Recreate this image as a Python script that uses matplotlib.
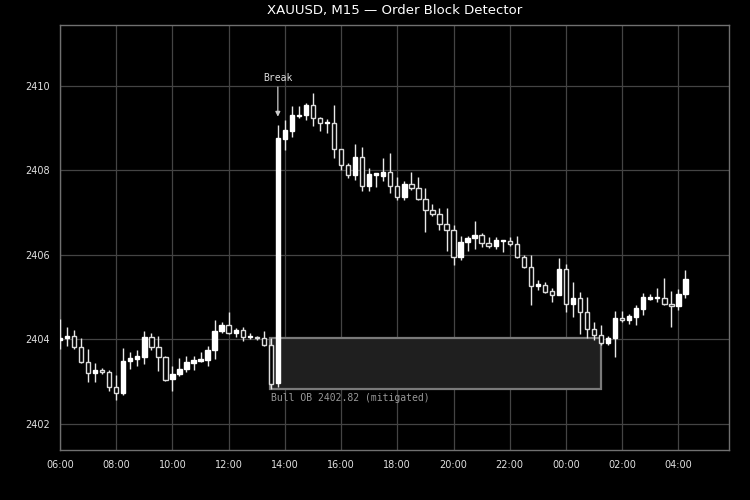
import matplotlib
matplotlib.use("Agg")
import matplotlib.pyplot as plt
from matplotlib.patches import Rectangle

# ---- data (M15 candles starting 06:00) ----
opens = [2403.98, 2404.02, 2404.08, 2403.82, 2403.46, 2403.21, 2403.27, 2403.23, 2402.87, 2402.74,
         2403.48, 2403.54, 2403.59, 2404.06, 2403.82, 2403.58, 2403.06, 2403.18, 2403.29, 2403.45,
         2403.49, 2403.51, 2403.74, 2404.19, 2404.34, 2404.15, 2404.21, 2404.05, 2404.06, 2404.03,
         2403.87, 2402.96, 2408.75, 2408.94, 2409.29, 2409.30, 2409.55, 2409.24, 2409.12, 2409.12,
         2408.50, 2408.12, 2407.89, 2408.31, 2407.63, 2407.90, 2407.87, 2407.96, 2407.62, 2407.38,
         2407.67, 2407.59, 2407.32, 2407.07, 2406.97, 2406.73, 2406.59, 2405.96, 2406.30, 2406.39,
         2406.47, 2406.28, 2406.20, 2406.33, 2406.33, 2406.25, 2405.94, 2405.71, 2405.27, 2405.28,
         2405.14, 2405.06, 2405.67, 2404.83, 2404.98, 2404.64, 2404.24, 2404.10, 2403.91, 2404.03,
         2404.50, 2404.45, 2404.54, 2404.72, 2404.96, 2404.97, 2404.98, 2404.84, 2404.78, 2405.07]
highs = [2404.49, 2404.29, 2404.22, 2404.03, 2403.77, 2403.44, 2403.32, 2403.28, 2403.16, 2403.79,
         2403.71, 2403.74, 2404.20, 2404.15, 2404.08, 2403.60, 2403.37, 2403.55, 2403.61, 2403.60,
         2403.70, 2403.83, 2404.46, 2404.40, 2404.64, 2404.27, 2404.29, 2404.15, 2404.08, 2404.20,
         2404.02, 2409.07, 2409.18, 2409.53, 2409.53, 2409.59, 2409.84, 2409.27, 2409.22, 2409.55,
         2408.50, 2408.18, 2408.63, 2408.55, 2408.05, 2407.94, 2408.29, 2408.41, 2407.85, 2407.75,
         2407.97, 2407.85, 2407.58, 2407.21, 2407.11, 2407.11, 2406.71, 2406.45, 2406.44, 2406.80,
         2406.51, 2406.42, 2406.42, 2406.36, 2406.42, 2406.45, 2405.99, 2406.00, 2405.41, 2405.35,
         2405.21, 2405.93, 2405.79, 2405.35, 2405.11, 2404.99, 2404.40, 2404.34, 2404.08, 2404.67,
         2404.66, 2404.60, 2404.82, 2405.09, 2405.08, 2405.21, 2405.45, 2405.15, 2405.19, 2405.64]
lows = [2403.78, 2403.83, 2403.78, 2403.44, 2403.00, 2402.99, 2403.18, 2402.77, 2402.57, 2402.69,
        2403.30, 2403.36, 2403.42, 2403.75, 2403.26, 2403.02, 2402.77, 2403.14, 2403.22, 2403.28,
        2403.47, 2403.38, 2403.54, 2404.15, 2404.13, 2404.06, 2403.95, 2404.01, 2403.99, 2403.85,
        2402.82, 2402.88, 2408.49, 2408.80, 2409.25, 2409.18, 2409.04, 2408.92, 2408.88, 2408.29,
        2408.01, 2407.82, 2407.78, 2407.50, 2407.50, 2407.61, 2407.74, 2407.46, 2407.30, 2407.30,
        2407.54, 2407.30, 2406.55, 2406.91, 2406.59, 2406.08, 2405.76, 2405.87, 2406.10, 2406.14,
        2406.19, 2406.17, 2406.14, 2406.06, 2406.21, 2405.93, 2405.69, 2404.82, 2405.17, 2405.09,
        2404.89, 2405.05, 2404.64, 2404.54, 2404.12, 2404.03, 2403.99, 2403.87, 2403.87, 2403.59,
        2404.42, 2404.37, 2404.34, 2404.58, 2404.94, 2404.89, 2404.82, 2404.28, 2404.70, 2404.98]
closes = [2404.04, 2404.08, 2403.81, 2403.46, 2403.20, 2403.27, 2403.22, 2402.86, 2402.74, 2403.49,
          2403.55, 2403.61, 2404.06, 2403.82, 2403.57, 2403.04, 2403.18, 2403.30, 2403.47, 2403.51,
          2403.54, 2403.75, 2404.20, 2404.34, 2404.15, 2404.22, 2404.05, 2404.07, 2404.03, 2403.86,
          2402.95, 2408.77, 2408.96, 2409.31, 2409.31, 2409.55, 2409.24, 2409.12, 2409.14, 2408.50,
          2408.13, 2407.89, 2408.31, 2407.63, 2407.91, 2407.92, 2407.96, 2407.62, 2407.38, 2407.67,
          2407.57, 2407.32, 2407.05, 2406.97, 2406.73, 2406.58, 2405.96, 2406.30, 2406.40, 2406.47,
          2406.27, 2406.21, 2406.36, 2406.36, 2406.25, 2405.94, 2405.71, 2405.27, 2405.30, 2405.13,
          2405.06, 2405.67, 2404.83, 2404.98, 2404.64, 2404.24, 2404.10, 2403.91, 2404.03, 2404.50,
          2404.45, 2404.56, 2404.75, 2404.99, 2405.01, 2405.01, 2404.83, 2404.78, 2405.08, 2405.43]

tick_labels = ["06:00", "08:00", "10:00", "12:00", "14:00", "16:00", "18:00",
               "20:00", "22:00", "00:00", "02:00", "04:00"]
tick_positions = [0, 8, 16, 24, 32, 40, 48, 56, 64, 72, 80, 88]

ob_index = 30
ob_end_index = 77
ob_low = 2402.82
ob_high = 2404.02
break_index = 31
ob_label = "Bull OB 2402.82 (mitigated)"
title = "XAUUSD, M15 \u2014 Order Block Detector"

# ---- figure ----
fig = plt.figure(figsize=(7.5, 5), dpi=100, facecolor="black")
ax = fig.add_axes([0.08, 0.1, 0.892, 0.85])
ax.set_facecolor("black")

n = len(opens)
xs = list(range(n))
body_w = 0.62

# wicks
ax.vlines(xs, lows, highs, colors="#e8e8e8", linewidth=1.0, zorder=3)
# bodies
for i in xs:
    o, c = opens[i], closes[i]
    bottom = min(o, c)
    h = max(abs(c - o), 0.025)
    if c >= o:
        ax.add_patch(Rectangle((i - body_w / 2, bottom), body_w, h,
                               facecolor="white", edgecolor="white", lw=1.0, zorder=4))
    else:
        ax.add_patch(Rectangle((i - body_w / 2, bottom), body_w, h,
                               facecolor="black", edgecolor="#dcdcdc", lw=1.0, zorder=4))

# order block zone
ax.add_patch(Rectangle((ob_index - 0.12, ob_low), ob_end_index - ob_index + 0.12, ob_high - ob_low,
                       facecolor="#1f1f1f", edgecolor="#7a7a7a", lw=1.6, zorder=2))
ax.text(ob_index, ob_low - 0.1, ob_label, ha="left", va="top", fontsize=7,
        family="DejaVu Sans Mono", color="#999999", zorder=5)

# break annotation
ax.annotate("Break", xy=(break_index, highs[break_index] + 0.2),
            xytext=(break_index, highs[break_index] + 1.0),
            ha="center", va="bottom", fontsize=7, family="DejaVu Sans Mono", color="#dddddd",
            arrowprops=dict(arrowstyle="-|>", color="#cccccc", lw=0.9, mutation_scale=7,
                            shrinkA=1, shrinkB=0), zorder=6)

ax.set_xlim(0, 95.2)
ax.set_ylim(2401.38, 2411.44)
ax.set_xticks(tick_positions)
ax.set_xticklabels(tick_labels)
ax.set_yticks([2402, 2404, 2406, 2408, 2410])
ax.set_yticklabels(["2402", "2404", "2406", "2408", "2410"])
ax.tick_params(colors="black", labelcolor="#e0e0e0", labelsize=7, length=3.5)
ax.grid(True, color="#444444", linewidth=0.9, zorder=0)
ax.set_axisbelow(True)
for s in ax.spines.values():
    s.set_color("#707070")
    s.set_linewidth(1.0)

ax.set_title(title, color="white", fontsize=9.5, pad=8)

fig.savefig("out.png", dpi=100, facecolor="black")
